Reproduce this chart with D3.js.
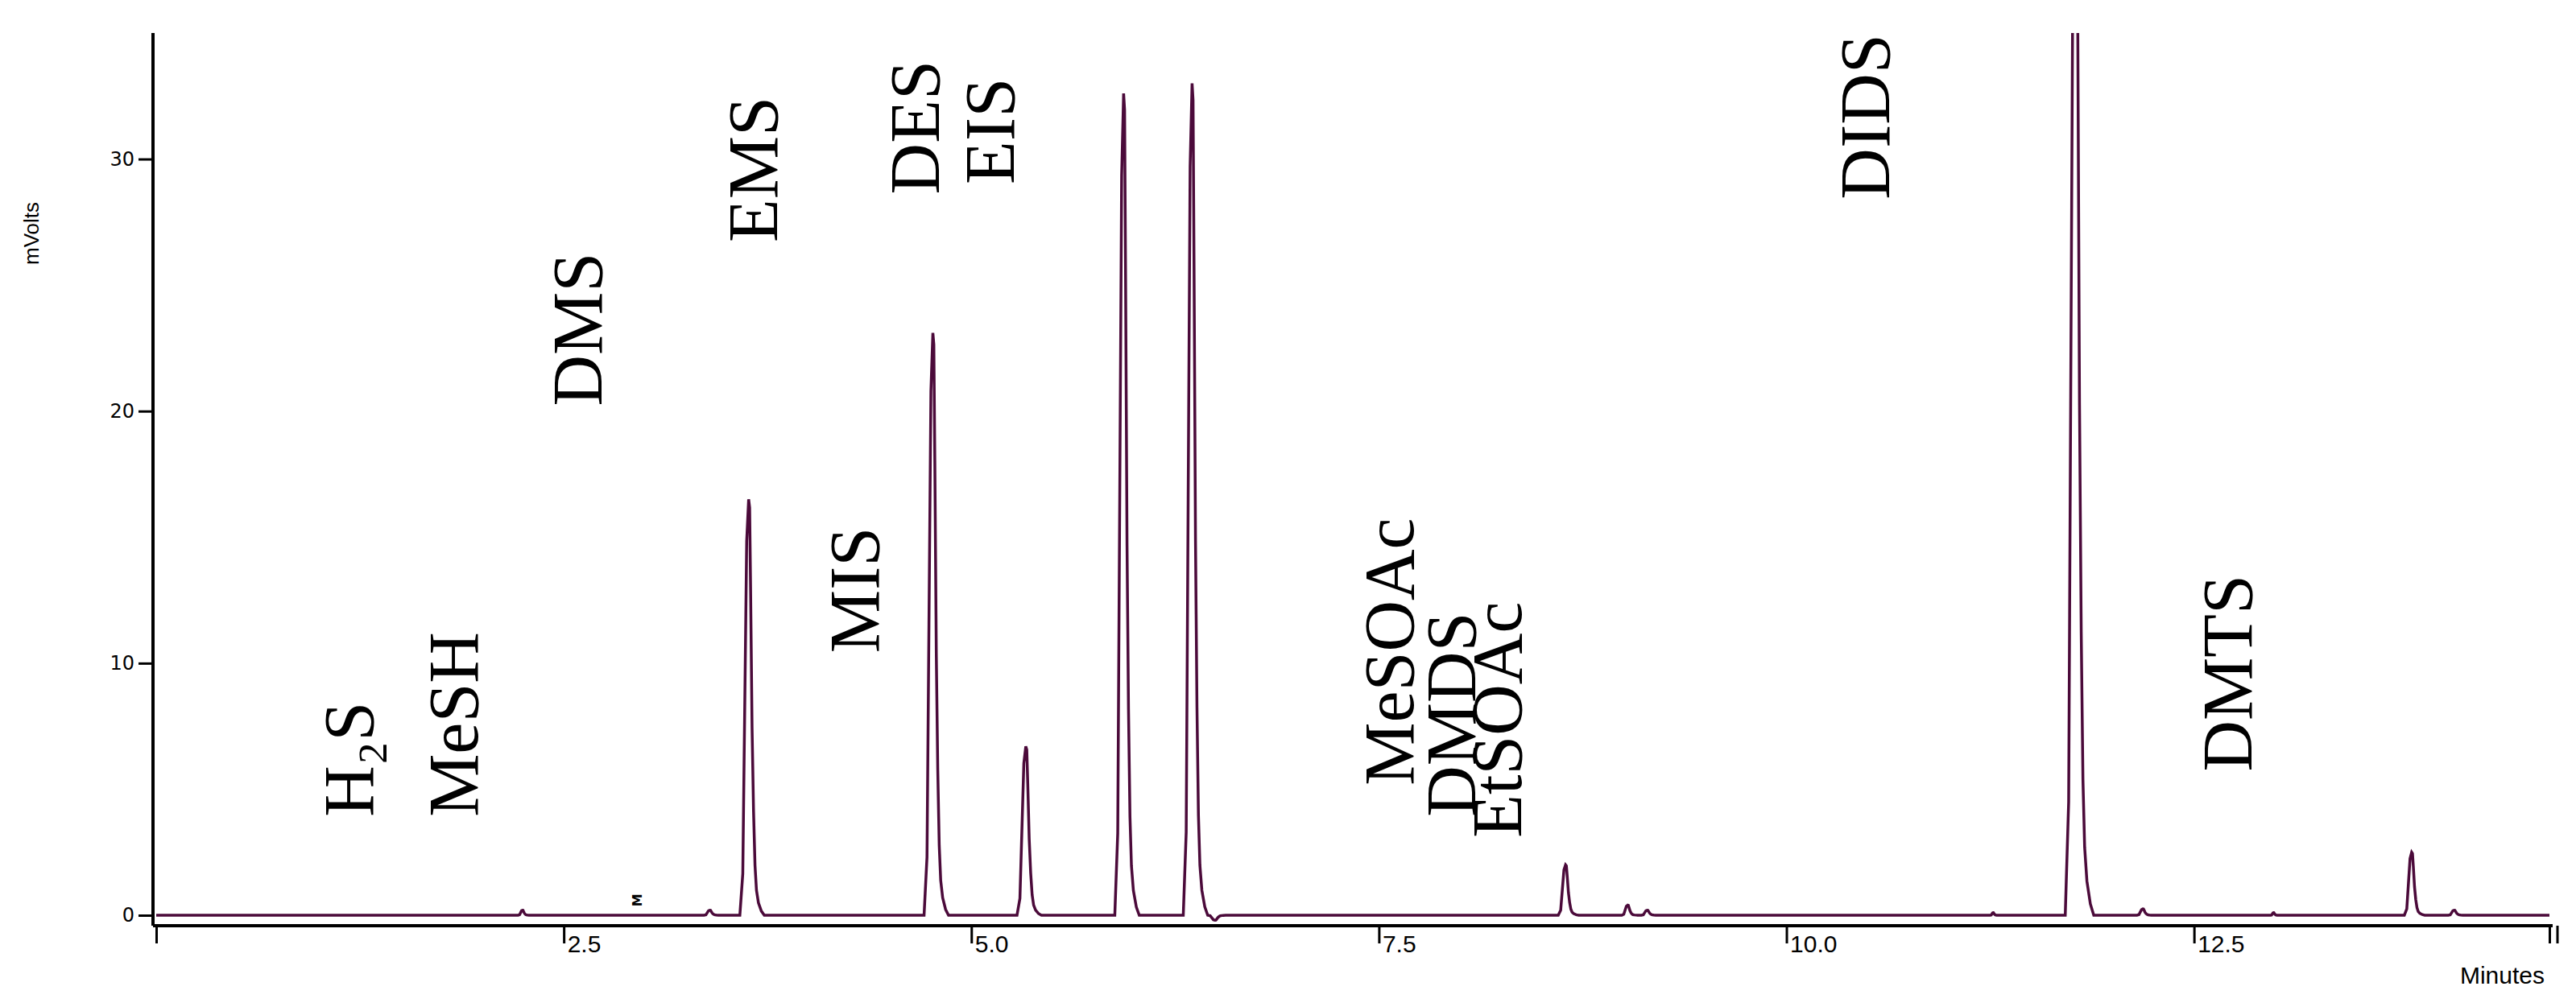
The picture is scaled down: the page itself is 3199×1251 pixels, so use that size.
<!DOCTYPE html>
<html><head><meta charset="utf-8">
<script src="https://cdn.jsdelivr.net/npm/d3@7"></script>
<style>body{margin:0;background:#fff}</style></head>
<body><svg id="c" width="3199" height="1251"></svg>
<script>
// peak retention times (min), heights (mV), widths (min)
const peakTimes   = [2.25, 3.40, 3.64, 4.77, 5.34, 5.94, 6.36, 6.50, 8.65, 9.03, 9.15, 11.27, 11.78, 12.19, 12.99, 13.84, 14.10];
const peakHeights = [0.2, 0.2, 16.5, 23.1, 6.7, 32.6, 33.0, -0.2, 2.0, 0.4, 0.2, 0.1, 45, 0.25, 0.1, 2.5, 0.2];
const peakWidths  = [0.03,0.04,0.06, 0.06, 0.06, 0.06, 0.06, 0.05, 0.05, 0.04, 0.04, 0.02, 0.07, 0.04, 0.02, 0.05, 0.04];
// peak shape profile (relative offset in widths, fraction of height)
const shapeOffsets = [-1.0,-0.7,-0.5,-0.3,-0.1,0,0.1,0.25,0.4,0.55,0.7,0.9,1.2,1.5];
const shapeFracs   = [0,  0.1, 0.5, 0.9, 1.0, 0.98,0.78,0.45,0.25,0.12,0.06,0.03,0.01,0];
const labels   = ["H\u2082S","MeSH","DMS","EMS","MIS","DES","EIS","MeSOAc","DMDS","EtSOAc","DIDS","DMTS"];
const labelX   = [1.33, 1.97, 2.73, 3.81, 4.43, 4.80, 5.26, 7.71, 8.09, 8.37, 10.63, 12.85];
const labelY   = [3.9, 3.9, 20.2, 26.7, 10.4, 28.6, 29.0, 5.15, 3.9, 3.07, 28.4, 5.7];
const xTicks = [2.5,5.0,7.5,10.0,12.5];
const yTicks = [0,10,20,30];

const svg=d3.select("#c");
const x=d3.scaleLinear().domain([0,14.68]).range([194,3166]);
const y=d3.scaleLinear().domain([0,35]).range([1137,41]);
const col="#4b0a3a";

let pts=[[0,0]];
peakTimes.forEach((t,i)=>{
  shapeOffsets.forEach((o,j)=>pts.push([t+o*peakWidths[i], peakHeights[i]*shapeFracs[j]]));
});
pts.push([14.68,0]);
pts.sort((a,b)=>a[0]-b[0]);
svg.append("clipPath").attr("id","cp").append("rect").attr("x",190).attr("y",41).attr("width",2990).attr("height",1110);
svg.append("path").attr("clip-path","url(#cp)").attr("d",d3.line().x(d=>x(d[0])).y(d=>y(d[1]))(pts))
  .attr("fill","none").attr("stroke",col).attr("stroke-width",3.5);

const ya=svg.append("g").attr("transform","translate(190,0)").call(d3.axisLeft(y).tickValues(yTicks).tickSize(18).tickFormat(d3.format("d")));
ya.select(".domain").attr("d","M0,1150V41").attr("stroke-width",4);
ya.selectAll("text").attr("font-family","'DejaVu Sans'").attr("font-size",24).attr("dx",-2);
ya.selectAll("line").attr("stroke-width",3);
const xa=svg.append("g").attr("transform","translate(0,1150)").call(d3.axisBottom(x).tickValues([0].concat(xTicks,[14.68])).tickSize(22).tickFormat(d=>xTicks.includes(d)?d3.format(".1f")(d):""));
xa.select(".domain").attr("d","M190,0H3170").attr("stroke-width",4);
xa.selectAll("line").attr("stroke-width",3);
xa.selectAll("text").attr("font-family","'Liberation Sans Narrow','Liberation Sans'").attr("font-size",30).attr("text-anchor","start").attr("dx",4).attr("dy",8);
svg.append("line").attr("x1",x(14.68)+10).attr("x2",x(14.68)+10).attr("y1",1150).attr("y2",1172).attr("stroke","#000").attr("stroke-width",3);

svg.append("text").attr("transform","translate(48,290) rotate(-90)").attr("text-anchor","middle")
  .attr("font-family","'Liberation Sans Narrow','Liberation Sans'").attr("font-size",26).text("mVolts");
svg.append("text").attr("x",3160).attr("y",1222).attr("text-anchor","end")
  .attr("font-family","'Liberation Sans Narrow','Liberation Sans'").attr("font-size",30).text("Minutes");

labels.forEach((l,i)=>{
  svg.append("text").attr("transform",`translate(${x(labelX[i])},${y(labelY[i])}) rotate(-90)`)
   .attr("font-family","'Liberation Serif','Times New Roman'").attr("font-size",88).attr("fill","#000").text(l);
});
svg.append("text").attr("transform",`translate(${x(2.98)},${y(0.6)}) rotate(-90)`).attr("text-anchor","middle")
  .attr("font-family","'DejaVu Sans'").attr("font-weight","bold").attr("font-size",16).text("M");
</script></body></html>
